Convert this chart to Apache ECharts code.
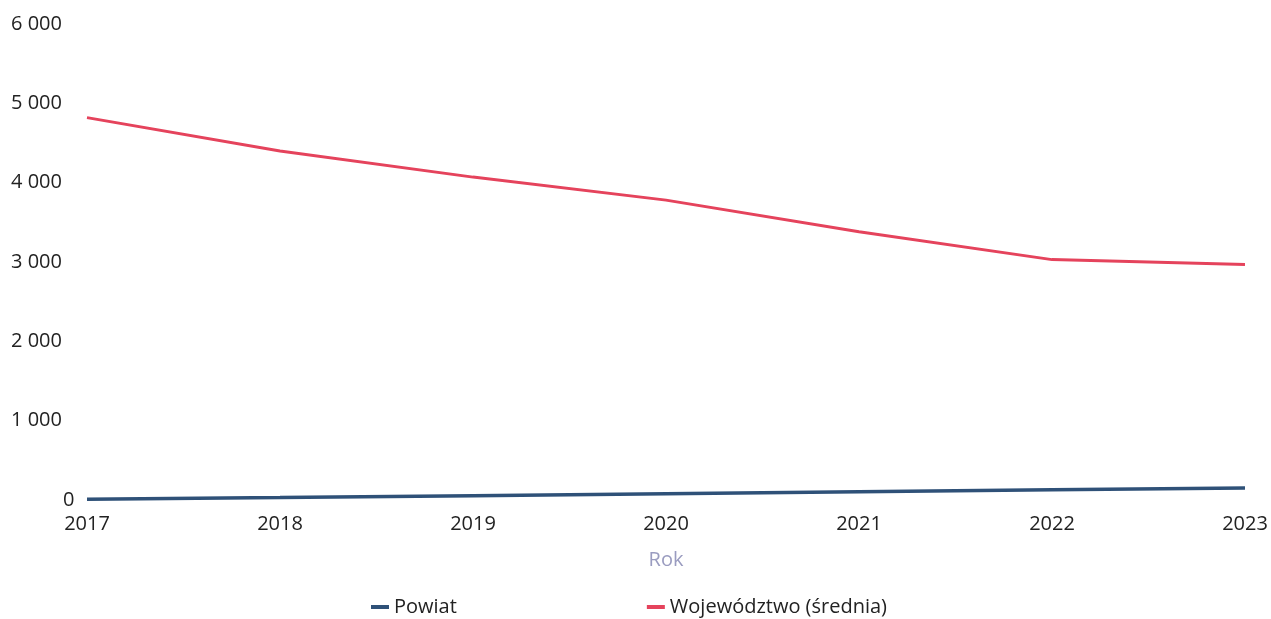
<!DOCTYPE html>
<html>
<head>
<meta charset="utf-8">
<script src="https://cdn.jsdelivr.net/npm/echarts@6/dist/echarts.min.js"></script>
<style>
html,body{margin:0;padding:0;background:#fff;}
#chart{width:1271px;height:619px;}
</style>
</head>
<body>
<div id="chart"></div>
<script>
const years = ['2017','2018','2019','2020','2021','2022','2023'];
const powiat = [10, 30, 55, 80, 105, 130, 150];
const wojewodztwo = [4820, 4400, 4070, 3780, 3380, 3030, 2970];
const seriesNames = ['Powiat', 'Województwo (średnia)'];
const xAxisName = 'Rok';

function fmt(v){
  return String(v).replace(/\B(?=(\d{3})+(?!\d))/g, ' ');
}

const chart = echarts.init(document.getElementById('chart'), null, {renderer:'canvas'});
chart.setOption({
  animation: false,
  backgroundColor: '#ffffff',
  textStyle: {fontFamily: 'Open Sans'},
  grid: {left: 87, right: 26, top: 24, bottom: 119, containLabel: false},
  legend: {
    left: 366, bottom: -3,
    itemGap: 190,
    itemWidth: 18, itemHeight: 4,
    icon: 'rect',
    textStyle: {fontSize: 20, color: '#222', fontFamily: 'Open Sans'},
    data: seriesNames
  },
  xAxis: {
    type: 'category',
    data: years,
    boundaryGap: false,
    name: xAxisName,
    nameLocation: 'middle',
    nameGap: 50,
    nameTextStyle: {fontSize: 20, color: '#9a9cc0', fontFamily: 'Open Sans'},
    axisLine: {show: false},
    axisTick: {show: false},
    axisLabel: {fontSize: 20, color: '#222', margin: 14, fontFamily: 'Open Sans'}
  },
  yAxis: {
    type: 'value',
    min: 0, max: 6000, interval: 1000,
    splitLine: {show: false},
    axisLine: {show: false},
    axisTick: {show: false},
    axisLabel: {
      fontSize: 20, color: '#222', fontFamily: 'Open Sans',
      align: 'left', margin: 76,
      formatter: function(v){ return v === 0 ? '{z|0}' : fmt(v); },
      rich: {z: {fontSize: 20, color: '#222', fontFamily: 'Open Sans', padding: [0,0,0,52]}}
    }
  },
  series: [
    {
      name: seriesNames[0], type: 'line', data: powiat,
      symbol: 'none', lineStyle: {width: 3.5, color: '#2f5178'},
      itemStyle: {color: '#2f5178'}
    },
    {
      name: seriesNames[1], type: 'line', data: wojewodztwo,
      symbol: 'none', lineStyle: {width: 3, color: '#e5435c'},
      itemStyle: {color: '#e5435c'}
    }
  ]
});
</script>
</body>
</html>
